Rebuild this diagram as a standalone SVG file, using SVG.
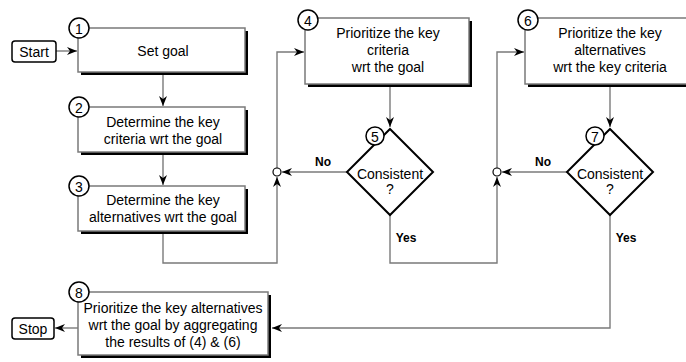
<svg xmlns="http://www.w3.org/2000/svg" width="686" height="362" viewBox="0 0 686 362">
  <style>
    text { font-family: "Liberation Sans", Arial, sans-serif; font-size: 14px; fill: #000; text-anchor: middle; dominant-baseline: central; }
    .lbl { font-weight: bold; font-size: 12px; }
    .shadow { fill: #000; }
    .box { fill: #fff; stroke: #7a7a7a; stroke-width: 1.5; }
    .term { fill: #fff; stroke: #000; stroke-width: 1.5; }
    .num { fill: #fff; stroke: #000; stroke-width: 1.5; }
    .dia { fill: #fff; stroke: #000; stroke-width: 2; }
    .wire { fill: none; stroke: #7a7a7a; stroke-width: 1.4; }
    .junc { fill: #fff; stroke: #000; stroke-width: 1.2; }
  </style>
  <defs>
    <marker id="arr" viewBox="0 0 10 8" refX="10" refY="4" markerWidth="10" markerHeight="8" markerUnits="userSpaceOnUse" orient="auto">
      <path d="M0,0 L10,4 L0,8 L3,4 Z" fill="#000"/>
    </marker>
  </defs>

  <rect width="686" height="362" fill="#fff"/>

  <!-- connectors -->
  <g id="connectors">
    <path class="wire" d="M56,51 H77" marker-end="url(#arr)"/>
    <path class="wire" d="M163,75 V106" marker-end="url(#arr)"/>
    <path class="wire" d="M163,155 V185" marker-end="url(#arr)"/>
    <path class="wire" d="M163,234 V263 H277 V177" marker-end="url(#arr)"/>
    <path class="wire" d="M277,168 V52 H304" marker-end="url(#arr)"/>
    <path class="wire" d="M390,87 V127" marker-end="url(#arr)"/>
    <path class="wire" d="M347,172 H282" marker-end="url(#arr)"/>
    <path class="wire" d="M390,215 V263 H497 V177" marker-end="url(#arr)"/>
    <path class="wire" d="M497,168 V52 H524" marker-end="url(#arr)"/>
    <path class="wire" d="M610,87 V127" marker-end="url(#arr)"/>
    <path class="wire" d="M567,172 H502" marker-end="url(#arr)"/>
    <path class="wire" d="M610,215 V328 H272" marker-end="url(#arr)"/>
    <path class="wire" d="M78,328 H55" marker-end="url(#arr)"/>
    <circle class="junc" cx="277" cy="172" r="4"/>
    <circle class="junc" cx="497" cy="172" r="4"/>
    <text class="lbl" x="323" y="162">No</text>
    <text class="lbl" x="543" y="162">No</text>
    <text class="lbl" x="406" y="238">Yes</text>
    <text class="lbl" x="626" y="238">Yes</text>
  </g>

  <g id="start">
    <rect class="term" x="12" y="41" width="44" height="21" rx="3"/>
    <text x="34" y="51.5">Start</text>
  </g>

  <g id="step1">
    <rect class="shadow" x="81" y="31" width="167" height="44"/>
    <rect class="box" x="78" y="28" width="167" height="44"/>
    <text x="163" y="51">Set goal</text>
    <circle class="num" cx="79" cy="28" r="10"/>
    <text x="79" y="28.5">1</text>
  </g>

  <g id="step2">
    <rect class="shadow" x="81" y="110" width="167" height="45"/>
    <rect class="box" x="78" y="107" width="167" height="45"/>
    <text x="163" y="122">Determine the key</text>
    <text x="163" y="139">criteria wrt the goal</text>
    <circle class="num" cx="79" cy="107" r="10"/>
    <text x="79" y="107.5">2</text>
  </g>

  <g id="step3">
    <rect class="shadow" x="81" y="189" width="167" height="45"/>
    <rect class="box" x="78" y="186" width="167" height="45"/>
    <text x="163" y="200">Determine the key</text>
    <text x="163" y="217">alternatives wrt the goal</text>
    <circle class="num" cx="79" cy="186" r="10"/>
    <text x="79" y="186.5">3</text>
  </g>

  <g id="step4">
    <rect class="shadow" x="308" y="21" width="164" height="66"/>
    <rect class="box" x="305" y="18" width="164" height="66"/>
    <text x="388" y="33">Prioritize the key</text>
    <text x="388" y="50">criteria</text>
    <text x="388" y="67">wrt the goal</text>
    <circle class="num" cx="308" cy="20" r="10"/>
    <text x="308" y="20.5">4</text>
  </g>

  <g id="step5">
    <path class="dia" d="M390,129 L433,172 L390,215 L347,172 Z"/>
    <text x="390" y="174">Consistent</text>
    <text x="390" y="189">?</text>
    <circle class="num" cx="375" cy="136" r="9"/>
    <text x="375" y="136.5">5</text>
  </g>

  <g id="step6">
    <rect class="shadow" x="528" y="21" width="170" height="66"/>
    <rect class="box" x="525" y="18" width="170" height="66"/>
    <text x="610" y="33">Prioritize the key</text>
    <text x="610" y="50">alternatives</text>
    <text x="610" y="67">wrt the key criteria</text>
    <circle class="num" cx="528" cy="20" r="10"/>
    <text x="528" y="20.5">6</text>
  </g>

  <g id="step7">
    <path class="dia" d="M610,129 L653,172 L610,215 L567,172 Z"/>
    <text x="610" y="174">Consistent</text>
    <text x="610" y="189">?</text>
    <circle class="num" cx="595" cy="136" r="9"/>
    <text x="595" y="136.5">7</text>
  </g>

  <g id="step8">
    <rect class="shadow" x="81" y="295" width="190" height="63"/>
    <rect class="box" x="78" y="292" width="190" height="63"/>
    <text x="173" y="308">Prioritize the key alternatives</text>
    <text x="173" y="325">wrt the goal by aggregating</text>
    <text x="173" y="342">the results of (4) &amp; (6)</text>
    <circle class="num" cx="79" cy="292" r="10"/>
    <text x="79" y="292.5">8</text>
  </g>

  <g id="stop">
    <rect class="term" x="12" y="318" width="42" height="21" rx="3"/>
    <text x="33" y="328.5">Stop</text>
  </g>
</svg>
